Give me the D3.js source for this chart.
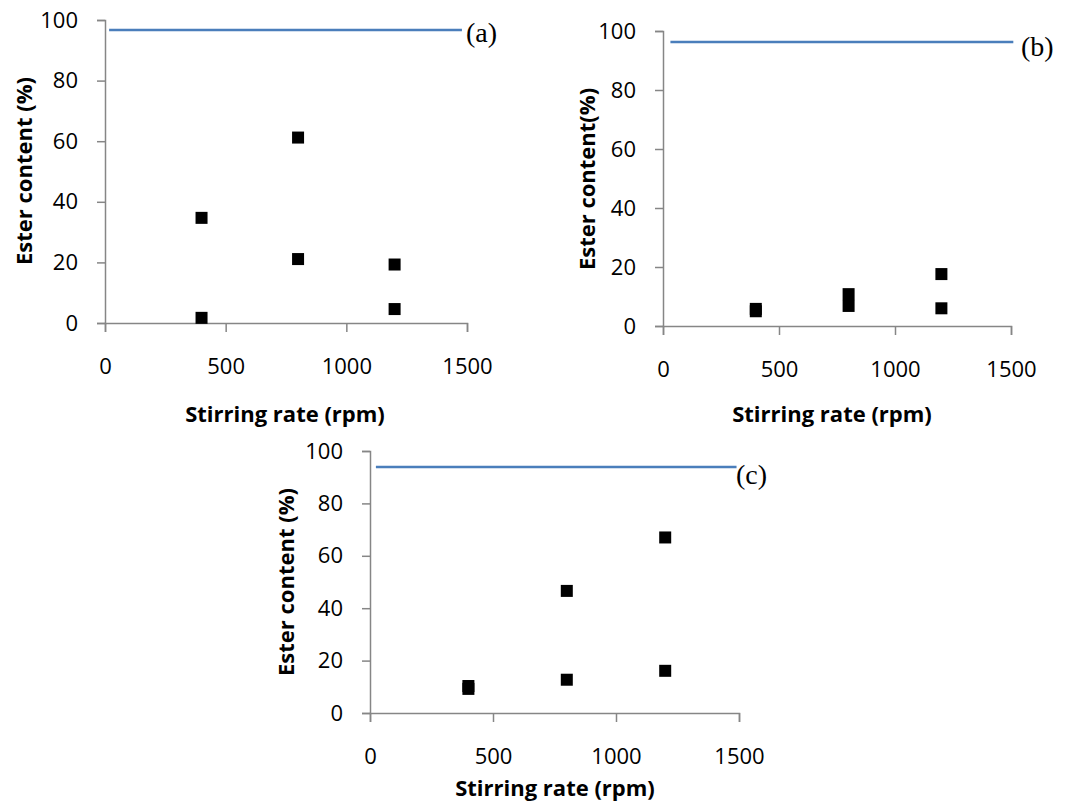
<!DOCTYPE html>
<html>
<head>
<meta charset="utf-8">
<script src="https://cdn.jsdelivr.net/npm/d3@7"></script>
<style>
  body { margin: 0; background: #fff; }
  svg { display: block; }
</style>
</head>
<body>
<svg width="1076" height="805"></svg>
<script>
// stirring rates used in every panel
const stirringRates = [400, 800, 1200];

// ester content (%), two runs per rate
const esterA1 = [34.7, 61.2, 19.3];
const esterA2 = [1.7, 21.1, 4.6];
const esterB1 = [5.8, 10.8, 17.6];
const esterB2 = [5.0, 6.8, 6.0];
const esterC1 = [10.3, 46.6, 67.0];
const esterC2 = [9.2, 12.7, 16.1];

// horizontal reference line per panel (value, start rpm, end rpm)
const refLevel = [96.7, 96.3, 93.9];
const refStart = [17, 32, 24];
const refEnd = [1479, 1510, 1490];

const xTicks = [0, 500, 1000, 1500];
const yTicks = [0, 20, 40, 60, 80, 100];
const panelTags = ['(a)', '(b)', '(c)'];
const yTitles = ['Ester content (%)', 'Ester content(%)', 'Ester content (%)'];
const xTitle = 'Stirring rate (rpm)';

const svg = d3.select('svg');

// where each panel sits on the page
const panels = [
    {x0: 105, x1: 467, y0: 323, y1: 20, series: [esterA1, esterA2],
     xTitleX: 285, xTitleY: 413, yTitleX: 23, yTitleY: 171, tagX: 466, tagY: 32},
    {x0: 663, x1: 1011, y0: 326, y1: 31, series: [esterB1, esterB2],
     xTitleX: 832, xTitleY: 413, yTitleX: 586, yTitleY: 179, tagX: 1021, tagY: 46},
    {x0: 370, x1: 739, y0: 713, y1: 451, series: [esterC1, esterC2],
     xTitleX: 555, xTitleY: 787, yTitleX: 285, yTitleY: 582, tagX: 736, tagY: 474}
];

const axisColor = '#868686';
const tickFont = '22px "Open Sans"';
const titleFont = 'bold 22px "Open Sans"';

panels.forEach((p, i) => {
    const x = d3.scaleLinear().domain([0, 1500]).range([p.x0, p.x1]);
    const y = d3.scaleLinear().domain([0, 100]).range([p.y0, p.y1]);

    const g = svg.append('g');

    // y axis
    const yAxis = g.append('g')
        .attr('transform', `translate(${p.x0},0)`)
        .call(d3.axisLeft(y).tickValues(yTicks).tickSize(8).tickPadding(19)
            .tickFormat(d3.format('d')));

    // x axis
    const xAxis = g.append('g')
        .attr('transform', `translate(0,${p.y0})`)
        .call(d3.axisBottom(x).tickValues(xTicks).tickSize(9).tickPadding(26)
            .tickFormat(d3.format('d')));

    [yAxis, xAxis].forEach(a => {
        a.select('.domain').attr('stroke', axisColor).attr('stroke-width', 1.5);
        a.selectAll('.tick line').attr('stroke', axisColor).attr('stroke-width', 1.5);
        a.selectAll('.tick text')
            .attr('fill', '#000')
            .style('font', tickFont);
    });

    // reference line
    g.append('line')
        .attr('x1', x(refStart[i]))
        .attr('x2', x(refEnd[i]))
        .attr('y1', y(refLevel[i]))
        .attr('y2', y(refLevel[i]))
        .attr('stroke', '#4a7ebb')
        .attr('stroke-width', 2.5);

    // data squares
    const size = 12;
    p.series.forEach(s => {
        g.selectAll(null)
            .data(stirringRates.map((r, k) => ({r: r, v: s[k]})))
            .enter()
            .append('rect')
            .attr('x', d => x(d.r) - size / 2)
            .attr('y', d => y(d.v) - size / 2)
            .attr('width', size)
            .attr('height', size)
            .attr('fill', '#000');
    });

    // axis titles
    g.append('text')
        .attr('x', p.xTitleX)
        .attr('y', p.xTitleY)
        .attr('text-anchor', 'middle')
        .attr('dominant-baseline', 'central')
        .style('font', titleFont)
        .text(xTitle);

    g.append('text')
        .attr('transform', `translate(${p.yTitleX},${p.yTitleY}) rotate(-90)`)
        .attr('text-anchor', 'middle')
        .attr('dominant-baseline', 'central')
        .style('font', titleFont)
        .text(yTitles[i]);

    // panel tag
    g.append('text')
        .attr('x', p.tagX)
        .attr('y', p.tagY)
        .attr('dominant-baseline', 'central')
        .style('font', '28px "Liberation Serif"')
        .text(panelTags[i]);
});
</script>
</body>
</html>
